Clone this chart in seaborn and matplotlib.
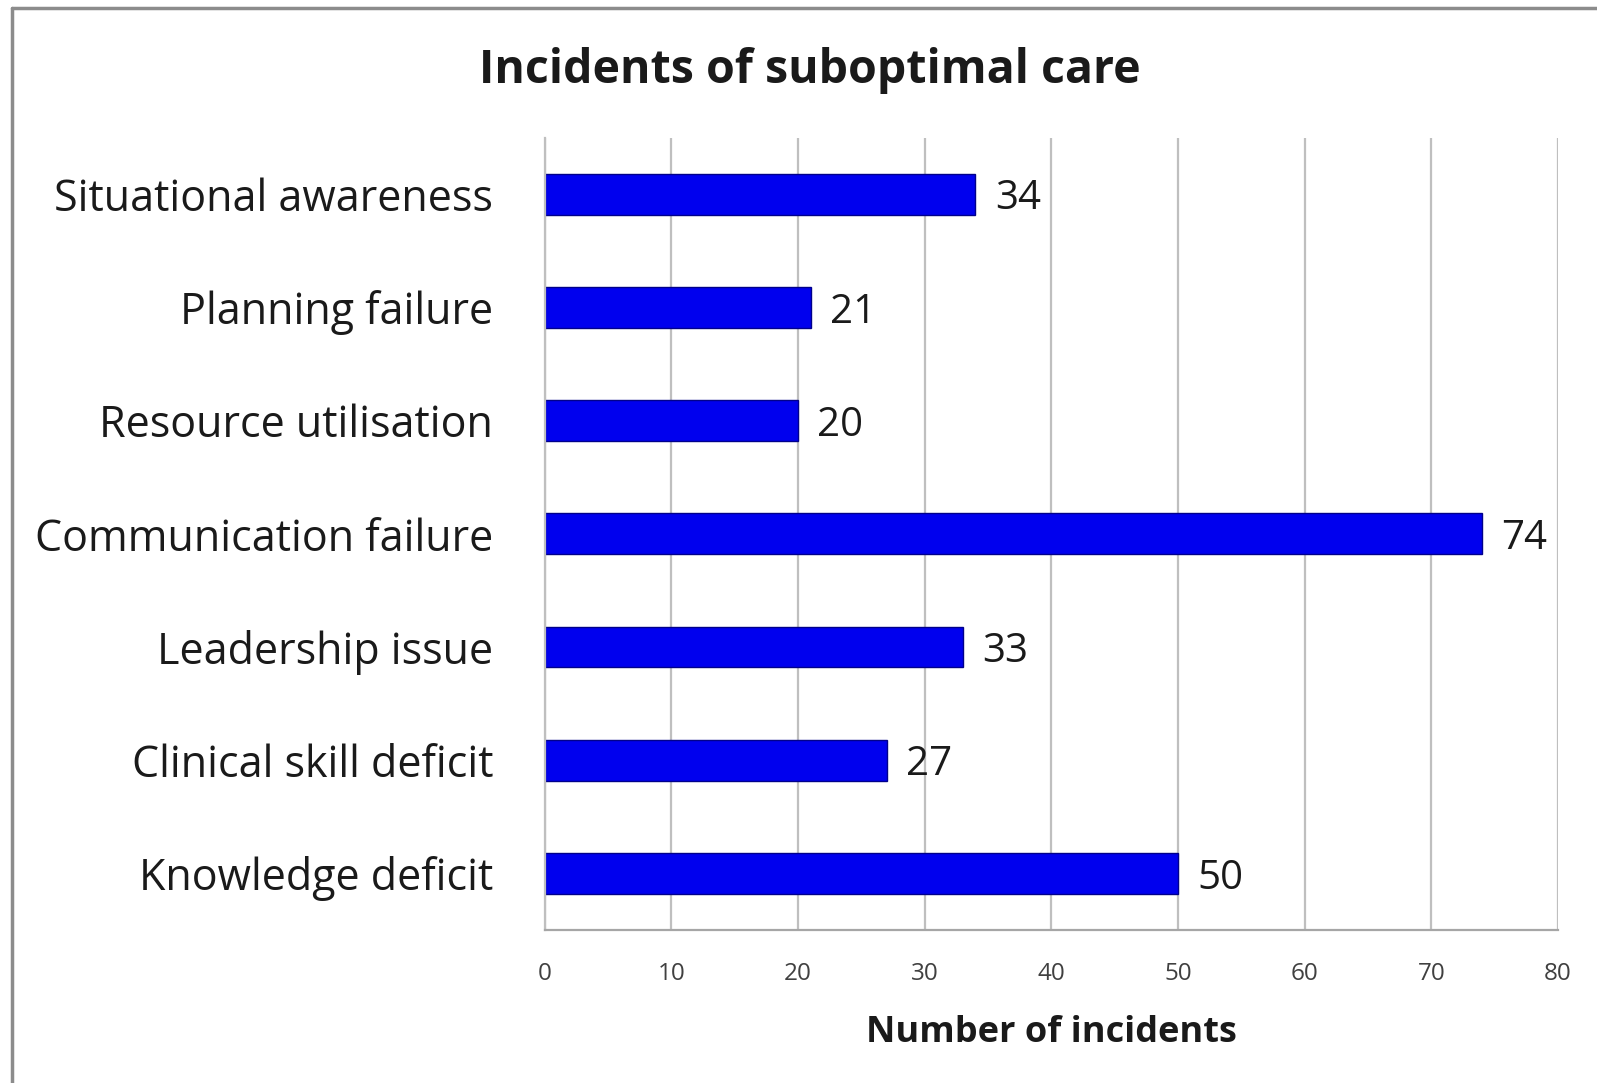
import pandas as pd
import seaborn as sns
import matplotlib.pyplot as plt
from matplotlib.lines import Line2D

# Chart values
categories = ['Situational awareness', 'Planning failure', 'Resource utilisation',
              'Communication failure', 'Leadership issue', 'Clinical skill deficit',
              'Knowledge deficit']
incidents = [34, 21, 20, 74, 33, 27, 50]
x_ticks = [0, 10, 20, 30, 40, 50, 60, 70, 80]

df = pd.DataFrame({'category': categories, 'incidents': incidents})

sns.set_theme(style='white')
plt.rcParams['font.family'] = ['Open Sans', 'DejaVu Sans']

fig = plt.figure(figsize=(15.97, 10.83), dpi=100)
ax = fig.add_axes([0.341, 0.1413, 0.6346, 0.7317])

sns.barplot(data=df, x='incidents', y='category', orient='h', color='#0000EE',
            saturation=1, width=0.36, edgecolor='#00008B', linewidth=1, ax=ax)

# Value labels next to each bar
texts = ax.bar_label(ax.containers[0], labels=[str(v) for v in incidents], padding=14,
                     fontsize=29, color='#1a1a1a')
for t in texts:
    t.set_va('center_baseline')

ax.set_xlim(0, 80)
ax.set_ylim(6.5, -0.5)
ax.set_xticks(x_ticks)
ax.set_xticklabels([str(t) for t in x_ticks], fontsize=17.5, color='#404040')
ax.tick_params(axis='x', pad=23, length=0)
ax.tick_params(axis='y', pad=37, length=0, labelsize=31, labelcolor='#1a1a1a')
for lbl in ax.get_yticklabels():
    lbl.set_va('center_baseline')

ax.xaxis.grid(True, color='#BFBFBF', linewidth=1.6)
ax.yaxis.grid(False)
ax.set_axisbelow(True)
for side in ['top', 'right']:
    ax.spines[side].set_visible(False)
ax.spines['left'].set_color('#BFBFBF')
ax.spines['left'].set_linewidth(1.6)
ax.spines['bottom'].set_color('#A6A6A6')
ax.spines['bottom'].set_linewidth(1.6)

ax.set_ylabel('')
ax.set_xlabel('Number of incidents', fontsize=26, fontweight='bold', labelpad=21,
              color='#1a1a1a')

fig.text(0.507, 0.935, 'Incidents of suboptimal care', ha='center', va='center',
         fontsize=33.5, fontweight='bold', color='#1a1a1a')

# Outer chart frame (left and top edges visible)
fig.add_artist(Line2D([12 / 1597, 12 / 1597], [0, 1 - 8 / 1083], color='#8C8C8C',
                      linewidth=2.5, transform=fig.transFigure))
fig.add_artist(Line2D([12 / 1597, 1], [1 - 8 / 1083, 1 - 8 / 1083], color='#8C8C8C',
                      linewidth=2.5, transform=fig.transFigure))

fig.savefig('out.png', dpi=100)
